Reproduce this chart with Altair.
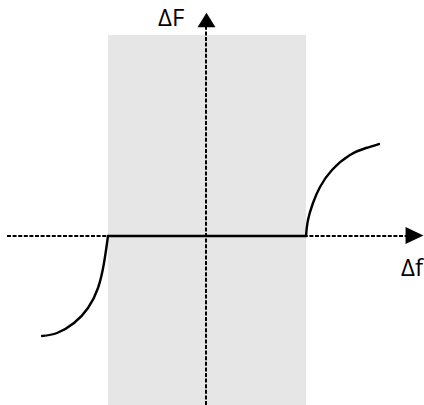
import altair as alt
import pandas as pd

# Dead-zone characteristic: flat between the zone edges, rising/falling outside
dead_zone = [-0.98, 1.00]

right_x = [1.00, 1.02, 1.07, 1.14, 1.26, 1.44, 1.60, 1.73]
right_y = [0.00, 0.16, 0.33, 0.49, 0.66, 0.81, 0.88, 0.92]

left_x = [-1.64, -1.49, -1.32, -1.18, -1.08, -1.02, -0.98]
left_y = [-1.00, -0.97, -0.87, -0.72, -0.52, -0.27, 0.00]

axis_labels = ["ΔF", "Δf"]

X_DOM = [-2.06, 2.18]
Y_DOM = [-1.69, 2.36]
xs = alt.Scale(domain=X_DOM, nice=False, zero=False)
ys = alt.Scale(domain=Y_DOM, nice=False, zero=False)
nox = alt.X("x:Q", scale=xs, axis=None)
noy = alt.Y("y:Q", scale=ys, axis=None)

zone = alt.Chart(pd.DataFrame({
    "x": [dead_zone[0]], "x2": [dead_zone[1]], "y": [Y_DOM[0]], "y2": [2.01]
})).mark_rect(color="#e6e6e6").encode(x=nox, x2="x2:Q", y=noy, y2="y2:Q")

h_axis = alt.Chart(pd.DataFrame({"x": [-1.99], "x2": [2.00], "y": [0.0]})).mark_rule(
    color="black", strokeWidth=2, strokeDash=[4, 1.6]
).encode(x=nox, x2="x2:Q", y=noy)

v_axis = alt.Chart(pd.DataFrame({"x": [0.0], "y": [Y_DOM[0]], "y2": [2.09]})).mark_rule(
    color="black", strokeWidth=2, strokeDash=[4, 1.6]
).encode(x=nox, y=noy, y2="y2:Q")

flat = pd.DataFrame({"x": dead_zone, "y": [0.0, 0.0], "seg": "flat"})
right = pd.DataFrame({"x": right_x, "y": right_y, "seg": "right"})
left = pd.DataFrame({"x": left_x, "y": left_y, "seg": "left"})
curve_df = pd.concat([left, flat, right], ignore_index=True)
curve_df["order"] = range(len(curve_df))

curve = alt.Chart(curve_df).mark_line(
    color="black", strokeWidth=2.4, interpolate="natural", strokeCap="round"
).encode(x=nox, y=noy, detail="seg:N", order="order:Q")

arrow_right = alt.Chart(pd.DataFrame({"x": [2.085], "y": [0.005]})).mark_point(
    shape="M-1,-0.94L1,0L-1,0.94Z", size=320, filled=True, color="black", opacity=1, strokeWidth=0
).encode(x=nox, y=noy)

arrow_up = alt.Chart(pd.DataFrame({"x": [0.005], "y": [2.16]})).mark_point(
    shape="M-1,0.82L0,-0.82L1,0.82Z", size=320, filled=True, color="black", opacity=1, strokeWidth=0
).encode(x=nox, y=noy)

labels = alt.Chart(pd.DataFrame({
    "x": [-0.48, 1.95], "y": [2.10, -0.40], "t": axis_labels
})).mark_text(
    font="Open Sans", fontSize=24, align="left", baseline="alphabetic", color="black"
).encode(x=nox, y=noy, text="t:N")

chart = alt.layer(zone, h_axis, v_axis, curve, arrow_right, arrow_up, labels).properties(
    width=424, height=405, padding=0, autosize=alt.AutoSizeParams(type="none")
).configure_view(stroke=None)

chart.save("out.html", embed_options={"renderer": "svg", "actions": False})
